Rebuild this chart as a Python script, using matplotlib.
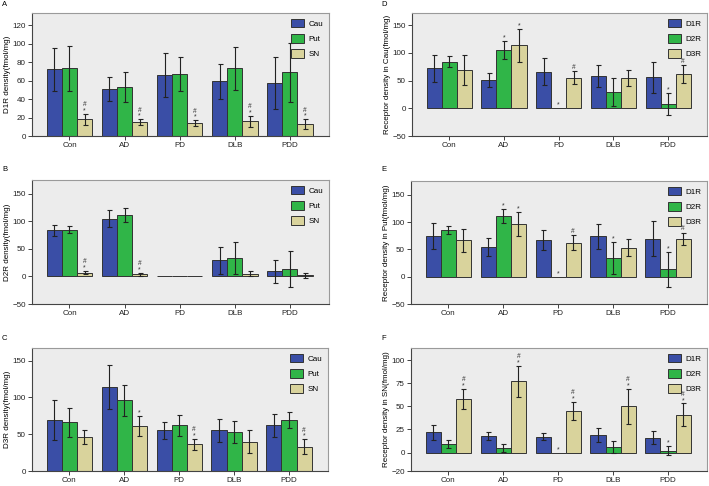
import numpy as np
import matplotlib
matplotlib.use('Agg')
import matplotlib.pyplot as plt

plt.rcParams['font.family'] = ['Liberation Sans', 'DejaVu Sans']

groups = ['Con', 'AD', 'PD', 'DLB', 'PDD']

# A: D1R density by region
a_cau = [72, 51, 66, 59, 57]
a_cau_err = [23, 13, 24, 19, 28]
a_put = [73, 53, 67, 73, 69]
a_put_err = [24, 16, 18, 23, 32]
a_sn = [18, 15, 14, 16, 13]
a_sn_err = [6, 3, 3, 6, 5]
a_sn_marks = ['#*', '#*', '#*', '#*', '#*']

# B: D2R density by region
b_cau = [84, 105, 0, 29, 9]
b_cau_err = [10, 16, 0, 25, 20]
b_put = [85, 111, 0, 33, 14]
b_put_err = [7, 13, 0, 29, 33]
b_sn = [7, 4, 0, 5, 2]
b_sn_err = [3, 3, 0, 4, 4]
b_sn_marks = ['#*', '#*', '', '', '']

# C: D3R density by region
c_cau = [69, 114, 55, 55, 62]
c_cau_err = [27, 30, 11, 15, 16]
c_put = [66, 96, 62, 53, 69]
c_put_err = [20, 21, 14, 15, 11]
c_sn = [46, 61, 36, 40, 33]
c_sn_err = [9, 14, 8, 15, 10]
c_sn_marks = ['', '*', '#*', '', '#*']

# D: receptors in Cau
d_d1 = [72, 51, 66, 59, 56]
d_d1_err = [24, 13, 24, 20, 28]
d_d2 = [84, 105, 0, 29, 8]
d_d2_err = [10, 16, 0, 25, 20]
d_d3 = [69, 114, 55, 55, 62]
d_d3_err = [27, 30, 12, 15, 16]
d_d2_marks = ['', '*', '*', '', '*']
d_d3_marks = ['', '*', '#', '', '#']

# E: receptors in Put
e_d1 = [74, 54, 67, 74, 69]
e_d1_err = [24, 16, 19, 23, 32]
e_d2 = [85, 111, 0, 34, 14]
e_d2_err = [7, 13, 0, 29, 32]
e_d3 = [67, 97, 62, 53, 69]
e_d3_err = [21, 22, 14, 15, 11]
e_d2_marks = ['', '*', '*', '*', '*']
e_d3_marks = ['', '*', '#', '', '#']

# F: receptors in SN
f_d1 = [22, 18, 17, 19, 16]
f_d1_err = [8, 4, 4, 8, 7]
f_d2 = [9, 5, 0, 6, 2]
f_d2_err = [4, 4, 0, 6, 5]
f_d3 = [58, 77, 45, 50, 41]
f_d3_err = [11, 17, 10, 19, 12]
f_d2_marks = ['', '', '*', '', '*']
f_d3_marks = ['#*', '#*', '#*', '#*', '#*']

colors = ['#3a4ea6', '#30b548', '#d9d39c']
W, H = 709, 486


def make_ax(fig, left, right, top, bottom):
    return fig.add_axes([left / W, 1 - bottom / H, (right - left) / W, (bottom - top) / H])


def put_marks(ax, x, top, marks):
    if '*' in marks:
        ax.annotate('*', xy=(x, top), xytext=(0, 1.5), textcoords='offset pixels',
                    ha='center', va='baseline', fontsize=5, color='#333')
    if '#' in marks:
        off = 7.5 if '*' in marks else 2.5
        ax.annotate('#', xy=(x, top), xytext=(0, off), textcoords='offset pixels',
                    ha='center', va='baseline', fontsize=4.8, color='#333')


def panel(ax, series, errs, marks, labels, ylim, yticks, ylabel, letter, lx, ly):
    x = np.arange(1, len(groups) + 1)
    bw = 0.275
    for i, (vals, err) in enumerate(zip(series, errs)):
        xi = x + (i - 1) * bw
        ax.bar(xi, vals, bw, color=colors[i], edgecolor='#333333', linewidth=0.7,
               label=labels[i], zorder=2)
        v = np.array(vals)
        e = np.array(err)
        m = e > 0
        ax.errorbar(xi[m], v[m], yerr=e[m], fmt='none', ecolor='#222222',
                    elinewidth=0.8, capsize=1.8, capthick=0.8, zorder=3)
        if marks[i] is not None:
            for xx, vv, ee, mk in zip(xi, v, e, marks[i]):
                if mk:
                    put_marks(ax, xx, vv + ee, mk)
    ax.set_xlim(0.32, 5.71)
    ax.set_ylim(*ylim)
    ax.set_yticks(yticks)
    ax.set_xticks(x)
    ax.set_xticklabels(groups)
    ax.set_facecolor('#ececec')
    ax.tick_params(labelsize=5.8, length=3, width=0.6, pad=1.5, colors='#222')
    for s in ['left', 'bottom']:
        ax.spines[s].set_color('#444')
        ax.spines[s].set_linewidth(0.8)
    for s in ['top', 'right']:
        ax.spines[s].set_color('#9a9a9a')
        ax.spines[s].set_linewidth(0.8)
    ax.set_ylabel(ylabel, fontsize=5.8, labelpad=1)
    ax.legend(loc='upper right', frameon=False, fontsize=5.8, handlelength=1.6,
              handleheight=1.3, labelspacing=0.75, handletextpad=0.6,
              borderaxespad=0.3)
    ax.figure.text(lx / W, 1 - ly / H, letter, fontsize=5.5, ha='left', va='top')


fig = plt.figure(figsize=(W / 100, H / 100), dpi=100)
fig.patch.set_facecolor('white')

ax_a = make_ax(fig, 32, 329, 13, 136)
ax_b = make_ax(fig, 32, 329, 180, 304)
ax_c = make_ax(fig, 32, 328, 348, 471)
ax_d = make_ax(fig, 412, 707, 13, 136)
ax_e = make_ax(fig, 411, 707, 181, 304)
ax_f = make_ax(fig, 411, 707, 348, 471)

reg = ['Cau', 'Put', 'SN']
rec = ['D1R', 'D2R', 'D3R']

panel(ax_a, [a_cau, a_put, a_sn], [a_cau_err, a_put_err, a_sn_err],
      [None, None, a_sn_marks], reg, (0, 133), [0, 20, 40, 60, 80, 100, 120],
      'D1R density(fmol/mg)', 'A', 2, 1)
panel(ax_b, [b_cau, b_put, b_sn], [b_cau_err, b_put_err, b_sn_err],
      [None, None, b_sn_marks], reg, (-50, 175), [-50, 0, 50, 100, 150],
      'D2R density(fmol/mg)', 'B', 2, 166)
panel(ax_c, [c_cau, c_put, c_sn], [c_cau_err, c_put_err, c_sn_err],
      [None, None, c_sn_marks], reg, (0, 167), [0, 50, 100, 150],
      'D3R density(fmol/mg)', 'C', 2, 335)
panel(ax_d, [d_d1, d_d2, d_d3], [d_d1_err, d_d2_err, d_d3_err],
      [None, d_d2_marks, d_d3_marks], rec, (-50, 172), [-50, 0, 50, 100, 150],
      'Receptor density in Cau(fmol/mg)', 'D', 381, 1)
panel(ax_e, [e_d1, e_d2, e_d3], [e_d1_err, e_d2_err, e_d3_err],
      [None, e_d2_marks, e_d3_marks], rec, (-50, 175), [-50, 0, 50, 100, 150],
      'Receptor density in Put(fmol/mg)', 'E', 381, 166)
panel(ax_f, [f_d1, f_d2, f_d3], [f_d1_err, f_d2_err, f_d3_err],
      [None, f_d2_marks, f_d3_marks], rec, (-20, 113), [-20, 0, 25, 50, 75, 100],
      'Receptor density in SN(fmol/mg)', 'F', 381, 335)

fig.savefig('out.png', dpi=100)
